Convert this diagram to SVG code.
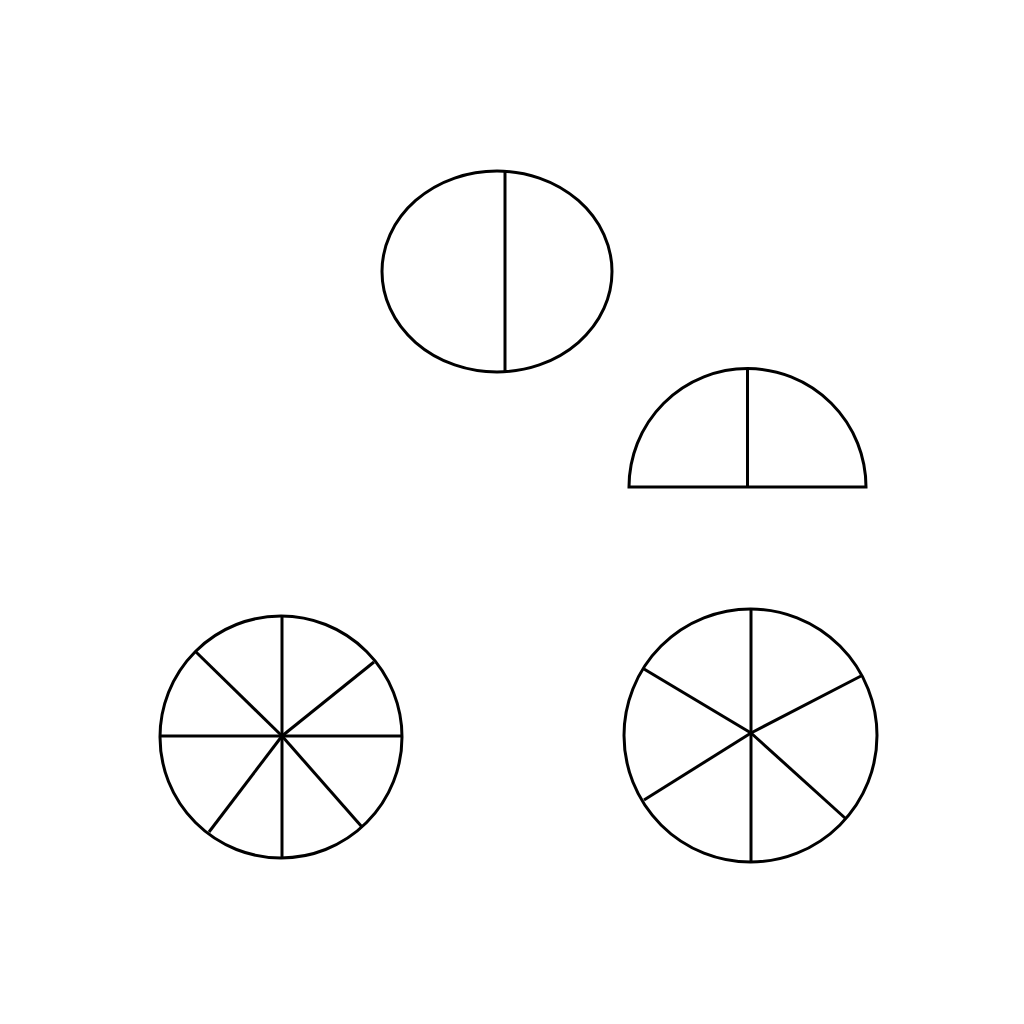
<svg xmlns="http://www.w3.org/2000/svg" width="1024" height="1024" viewBox="0 0 1024 1024">
<style>
.s{fill:none;stroke:#000;stroke-width:3;stroke-linecap:butt;stroke-linejoin:miter}
</style>
<rect width="1024" height="1024" fill="#fff"/>
<g id="ellipse-half">
<ellipse class="s" cx="497" cy="271.5" rx="115" ry="100.5"/>
<line class="s" x1="505" y1="171.5" x2="505" y2="372"/>
</g>
<g id="semicircle">
<path class="s" d="M629,487 A118.5,118.5 0 0 1 866,487 Z"/>
<line class="s" x1="747.5" y1="369" x2="747.5" y2="487"/>
</g>
<g id="circle-eight">
<circle class="s" cx="281" cy="737" r="121"/>
<line class="s" x1="282" y1="616" x2="282" y2="858"/>
<line class="s" x1="160" y1="736" x2="402" y2="736"/>
<line class="s" x1="196" y1="652" x2="282" y2="736"/>
<line class="s" x1="374" y1="662" x2="282" y2="736"/>
<line class="s" x1="209" y1="832" x2="282" y2="736"/>
<line class="s" x1="362" y1="827" x2="282" y2="736"/>
</g>
<g id="circle-six">
<circle class="s" cx="750.5" cy="735.5" r="126.5"/>
<line class="s" x1="751" y1="609" x2="751" y2="862"/>
<line class="s" x1="644" y1="669" x2="751" y2="733"/>
<line class="s" x1="861" y1="676" x2="751" y2="733"/>
<line class="s" x1="644" y1="800" x2="751" y2="733"/>
<line class="s" x1="845" y1="818" x2="751" y2="733"/>
</g>
</svg>
